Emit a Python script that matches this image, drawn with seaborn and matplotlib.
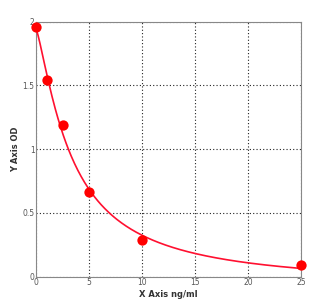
import numpy as np
import pandas as pd
import matplotlib
matplotlib.use("Agg")
import matplotlib.pyplot as plt
import seaborn as sns

# Data
conc = [0, 1, 2.5, 5, 10, 25]          # X Axis ng/ml
od = [1.96, 1.54, 1.19, 0.665, 0.29, 0.09]  # Y Axis OD
x_ticks = [0, 5, 10, 15, 20, 25]
y_ticks = [0, 0.5, 1, 1.5, 2]
y_tick_labels = ["0", "0.5", "1", "1.5", "2"]

# 4-parameter logistic fit of the standard curve (computed from the data)
xa = np.array(conc, float)
ya = np.array(od, float)
best = None
for b in np.linspace(0.6, 3.0, 121):
    for c in np.linspace(0.5, 20, 196):
        g = 1.0 / (1.0 + (xa / c) ** b)
        A = np.column_stack([g, 1 - g])
        coef, *_ = np.linalg.lstsq(A, ya, rcond=None)
        r = np.sum((A @ coef - ya) ** 2)
        if best is None or r < best[0]:
            best = (r, b, c, coef)
_, b, c, (a, d) = best
fx = np.linspace(0, 25, 400)
fy = d + (a - d) / (1 + (fx / c) ** b)
fit = pd.DataFrame({"x": fx, "y": fy})
pts = pd.DataFrame({"x": conc, "y": od})

sns.set_style("white")
fig = plt.figure(figsize=(3.34, 3.07), dpi=100)
ax = fig.add_axes([0.108, 0.099, 0.793, 0.83])

sns.lineplot(data=fit, x="x", y="y", ax=ax, color="#ff1030", linewidth=1.2, zorder=3)
sns.scatterplot(data=pts, x="x", y="y", ax=ax, color="#ff0000", s=55,
                edgecolor="#ff0000", linewidth=0, zorder=4, clip_on=False)

ax.set_xlim(0, 25)
ax.set_ylim(0, 2)
ax.set_xticks(x_ticks)
ax.set_yticks(y_ticks)
ax.set_yticklabels(y_tick_labels)
ax.tick_params(axis="both", length=0, labelsize=5.5, colors="#555555", pad=1)
ax.grid(True, linestyle=(0, (1, 2)), color="#222222", linewidth=0.8)
for s in ax.spines.values():
    s.set_color("#888888")
    s.set_linewidth(0.8)
ax.set_xlabel("X Axis ng/ml", fontsize=6, fontweight="bold", color="#333333", labelpad=2)
ax.set_ylabel("Y Axis OD", fontsize=6, fontweight="bold", color="#333333", labelpad=2)

fig.savefig("out.png", dpi=100, facecolor="white")
